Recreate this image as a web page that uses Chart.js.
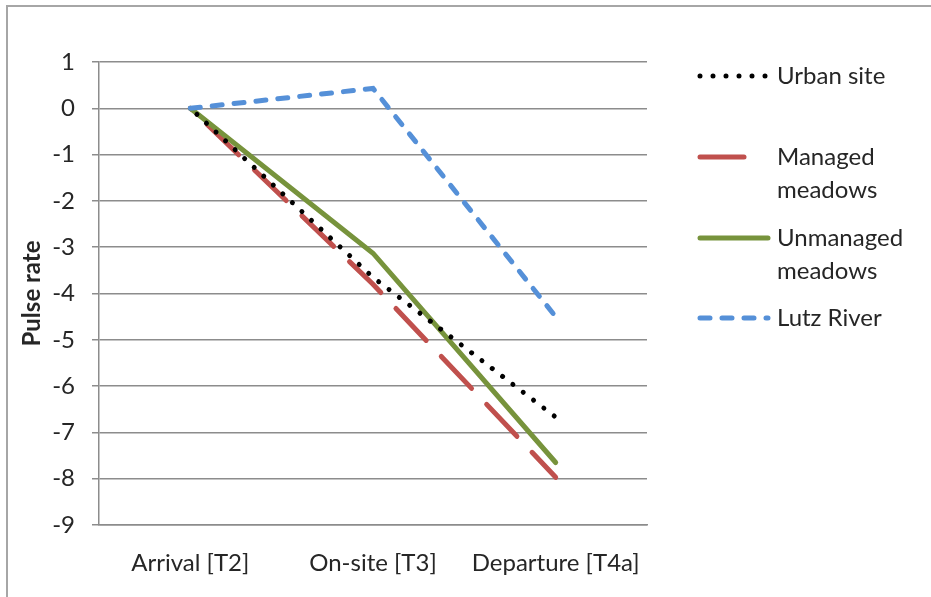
<!DOCTYPE html>
<html>
<head>
<meta charset="utf-8">
<script src="https://cdn.jsdelivr.net/npm/chart.js@4/dist/chart.umd.min.js"></script>
<style>
  html, body { margin: 0; padding: 0; background: #ffffff; }
  #wrap { width: 931px; height: 597px; position: relative; }
</style>
</head>
<body>
<div id="wrap"><canvas id="c" width="931" height="597"></canvas></div>
<script>
// Measurement times
const categories = ['Arrival [T2]', 'On-site [T3]', 'Departure [T4a]'];

// Change in pulse rate per site
const urbanSite = [0, -3.65, -6.67];
const managedMeadows = [0, -3.8, -7.97];
const unmanagedMeadows = [0, -3.13, -7.65];
const lutzRiver = [0, 0.43, -4.5];

const seriesNames = ['Urban site', 'Managed meadows', 'Unmanaged meadows', 'Lutz River'];
// Legend text broken into lines
const legendLines = [['Urban site'], ['Managed', 'meadows'], ['Unmanaged', 'meadows'], ['Lutz River']];

const yTicks = { min: -9, max: 1, step: 1 };

const FONT = 'Lato, "Liberation Sans", sans-serif';
const FONT_SIZE = 24;
const TEXT = '#262626';
const GRID = '#8c8c8c';

// Thin frame around the chart
const framePlugin = {
  id: 'frame',
  beforeDraw(chart) {
    const ctx = chart.ctx;
    ctx.save();
    ctx.fillStyle = '#ffffff';
    ctx.fillRect(0, 0, chart.width, chart.height);
    ctx.strokeStyle = '#a6a6a6';
    ctx.lineWidth = 2;
    ctx.strokeRect(7, 6, chart.width + 20, chart.height + 20);
    ctx.restore();
  }
};

// Legend on the right, with wrapped labels
const sideLegend = {
  id: 'sideLegend',
  afterDraw(chart) {
    const ctx = chart.ctx;
    const rowY = [76, 157, 238, 318];
    const x0 = 700, textX = 777, lineH = 33;
    ctx.save();
    chart.data.datasets.forEach((ds, i) => {
      const y = rowY[i];
      const dash = ds.borderDash || [];
      const len = (dash.length && dash[0] > 30) ? dash[0] : 68;
      ctx.beginPath();
      ctx.setLineDash(dash);
      ctx.lineCap = ds.borderCapStyle || 'butt';
      ctx.lineWidth = ds.borderWidth;
      ctx.strokeStyle = ds.borderColor;
      ctx.moveTo(x0, y);
      ctx.lineTo(x0 + len, y);
      ctx.stroke();
      ctx.setLineDash([]);
      ctx.fillStyle = TEXT;
      ctx.font = FONT_SIZE + 'px ' + FONT;
      ctx.textBaseline = 'middle';
      ctx.textAlign = 'left';
      legendLines[i].forEach((t, k) => ctx.fillText(t, textX, y + k * lineH));
    });
    ctx.restore();
  }
};

new Chart(document.getElementById('c'), {
  type: 'line',
  data: {
    labels: categories,
    datasets: [
      { label: seriesNames[0], data: urbanSite, borderColor: '#000000', borderWidth: 5,
        borderDash: [0.001, 13], borderDashOffset: 4, borderCapStyle: 'round', pointRadius: 0, order: 0 },
      { label: seriesNames[1], data: managedMeadows, borderColor: '#C0504D', borderWidth: 5,
        borderDash: [44, 22], borderDashOffset: 43, borderCapStyle: 'round', pointRadius: 0, order: 3 },
      { label: seriesNames[2], data: unmanagedMeadows, borderColor: '#77933C', borderWidth: 5,
        borderCapStyle: 'round', pointRadius: 0, order: 2 },
      { label: seriesNames[3], data: lutzRiver, borderColor: '#5590D8', borderWidth: 5,
        borderDash: [10, 12], borderCapStyle: 'round', pointRadius: 0, order: 1 }
    ]
  },
  options: {
    responsive: false,
    animation: false,
    events: [],
    layout: { padding: { top: 62, right: 284, left: 0, bottom: 0 } },
    plugins: { legend: { display: false }, tooltip: { enabled: false } },
    elements: { line: { tension: 0, fill: false } },
    scales: {
      x: {
        offset: true,
        grid: { display: false, drawTicks: false },
        border: { display: true, color: GRID, width: 1.5 },
        ticks: { color: TEXT, font: { family: FONT, size: FONT_SIZE }, padding: 24, maxRotation: 0 },
        afterFit(s) { s.height = 72; }
      },
      y: {
        min: yTicks.min,
        max: yTicks.max,
        ticks: { stepSize: yTicks.step, color: TEXT, font: { family: FONT, size: FONT_SIZE }, padding: 17 },
        grid: { color: GRID, lineWidth: 1.5, tickLength: 7, drawTicks: true },
        border: { display: true, color: GRID, width: 1.5 },
        title: { display: true, text: 'Pulse rate', color: TEXT,
                 font: { family: FONT, size: FONT_SIZE, weight: 'bold' }, padding: { top: 18, bottom: 0 } },
        afterFit(s) { s.width = 99; }
      }
    }
  },
  plugins: [framePlugin, sideLegend]
});
</script>
</body>
</html>
